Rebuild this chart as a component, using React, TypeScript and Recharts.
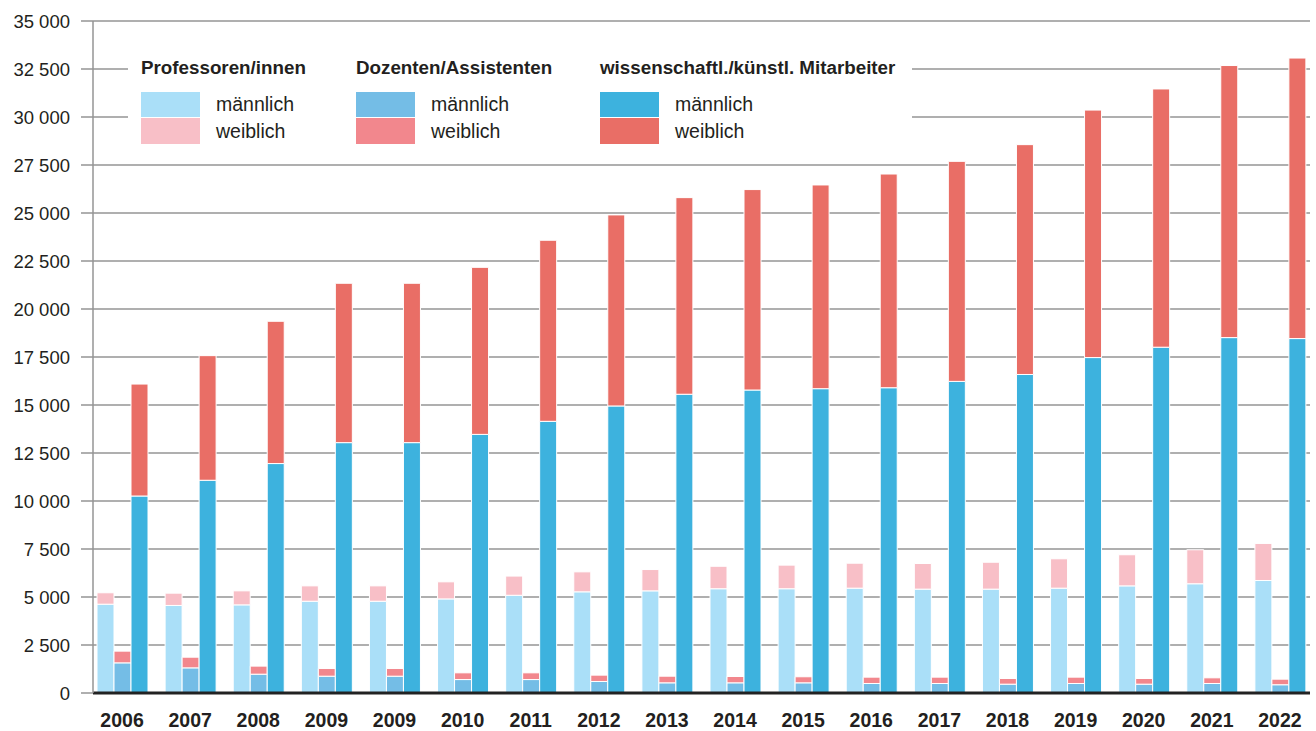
import React from 'react';
import { BarChart, Bar, XAxis, YAxis, CartesianGrid } from 'recharts';

const categories = ['2006', '2007', '2008', '2009', '2009', '2010', '2011', '2012', '2013', '2014', '2015', '2016', '2017', '2018', '2019', '2020', '2021', '2022'];

const profMale = [4625, 4560, 4590, 4780, 4780, 4900, 5090, 5270, 5320, 5430, 5430, 5460, 5410, 5410, 5460, 5580, 5690, 5860];
const profFemale = [595, 640, 730, 800, 800, 890, 1000, 1040, 1110, 1170, 1230, 1300, 1335, 1400, 1530, 1620, 1770, 1930];

const dozMale = [1570, 1310, 980, 875, 875, 700, 700, 600, 530, 530, 530, 495, 495, 460, 495, 460, 495, 430];
const dozFemale = [610, 555, 420, 400, 400, 350, 350, 330, 345, 330, 315, 330, 330, 295, 330, 295, 295, 290];

const wissMale = [10260, 11080, 11950, 13040, 13040, 13470, 14150, 14950, 15560, 15780, 15850, 15900, 16230, 16590, 17470, 18010, 18510, 18460];
const wissFemale = [5830, 6490, 7410, 8300, 8300, 8700, 9430, 9950, 10240, 10440, 10610, 11130, 11460, 11970, 12890, 13450, 14170, 14610];

const yTicks = [0, 2500, 5000, 7500, 10000, 12500, 15000, 17500, 20000, 22500, 25000, 27500, 30000, 32500, 35000];

const COLORS = {
  profM: '#aadff8',
  profF: '#f8bfc7',
  dozM: '#74bde6',
  dozF: '#f2878d',
  wissM: '#3db2de',
  wissF: '#e96e66',
};

const legendGroups = [
  { title: 'Professoren/innen', male: COLORS.profM, female: COLORS.profF, x: 13 },
  { title: 'Dozenten/Assistenten', male: COLORS.dozM, female: COLORS.dozF, x: 228 },
  { title: 'wissenschaftl./künstl. Mitarbeiter', male: COLORS.wissM, female: COLORS.wissF, x: 472 },
];

const FONT = '"Liberation Sans", Arial, sans-serif';
const TEXT = '#231f20';

const data = categories.map((year, i) => ({
  year,
  profM: profMale[i],
  profF: profFemale[i],
  dozM: dozMale[i],
  dozF: dozFemale[i],
  wissM: wissMale[i],
  wissF: wissFemale[i],
}));

const fmt = (v: number) => String(v).replace(/\B(?=(\d{3})+(?!\d))/g, ' ');

function ChartLegend() {
  return (
    <div
      style={{
        position: 'absolute',
        left: 128,
        top: 32,
        width: 784,
        height: 122,
        background: '#ffffff',
        fontFamily: FONT,
        color: TEXT,
      }}
    >
      {legendGroups.map((g) => (
        <div key={g.title} style={{ position: 'absolute', left: g.x, top: 0 }}>
          <div style={{ position: 'absolute', top: 26, left: 0, fontSize: 18.8, fontWeight: 700, whiteSpace: 'nowrap', lineHeight: '20px' }}>
            {g.title}
          </div>
          <div style={{ position: 'absolute', top: 60, left: 0, width: 59, height: 25, background: g.male }} />
          <div style={{ position: 'absolute', top: 86, left: 0, width: 59, height: 26, background: g.female }} />
          <div style={{ position: 'absolute', top: 61, left: 75, fontSize: 19.5, lineHeight: '22px', whiteSpace: 'nowrap' }}>männlich</div>
          <div style={{ position: 'absolute', top: 88, left: 75, fontSize: 19.5, lineHeight: '22px', whiteSpace: 'nowrap' }}>weiblich</div>
        </div>
      ))}
    </div>
  );
}

export default function App() {
  return (
    <div style={{ position: 'relative', width: 1316, height: 731, background: '#ffffff' }}>
      <style>{'body{margin:0}'}</style>
      <BarChart
        width={1316}
        height={731}
        data={data}
        margin={{ top: 21, right: 6, bottom: 0, left: 0 }}
        barSize={17}
        barGap={0}
      >
        <CartesianGrid vertical={false} stroke="#949494" strokeWidth={1.5} />
        <XAxis
          dataKey="year"
          height={38}
          padding={{ left: -5, right: -4 }}
          axisLine={{ stroke: '#222222', strokeWidth: 3 }}
          tickLine={false}
          tickSize={0}
          tickMargin={20}
          interval={0}
          tick={{ fill: TEXT, fontSize: 19.5, fontWeight: 700, fontFamily: FONT }}
        />
        <YAxis
          width={93}
          domain={[0, 35000]}
          ticks={yTicks}
          interval={0}
          tickFormatter={fmt}
          axisLine={{ stroke: '#949494', strokeWidth: 1.5 }}
          tickLine={{ stroke: '#949494', strokeWidth: 1.5 }}
          tickSize={12}
          tickMargin={11}
          tick={{ fill: TEXT, fontSize: 18.5, fontFamily: FONT }}
        />
        <Bar dataKey="profM" stackId="prof" fill={COLORS.profM} stroke="#ffffff" strokeWidth={1} isAnimationActive={false} />
        <Bar dataKey="profF" stackId="prof" fill={COLORS.profF} stroke="#ffffff" strokeWidth={1} isAnimationActive={false} />
        <Bar dataKey="dozM" stackId="doz" fill={COLORS.dozM} stroke="#ffffff" strokeWidth={1} isAnimationActive={false} />
        <Bar dataKey="dozF" stackId="doz" fill={COLORS.dozF} stroke="#ffffff" strokeWidth={1} isAnimationActive={false} />
        <Bar dataKey="wissM" stackId="wiss" fill={COLORS.wissM} stroke="#ffffff" strokeWidth={1} isAnimationActive={false} />
        <Bar dataKey="wissF" stackId="wiss" fill={COLORS.wissF} stroke="#ffffff" strokeWidth={1} isAnimationActive={false} />
      </BarChart>
      <ChartLegend />
    </div>
  );
}
